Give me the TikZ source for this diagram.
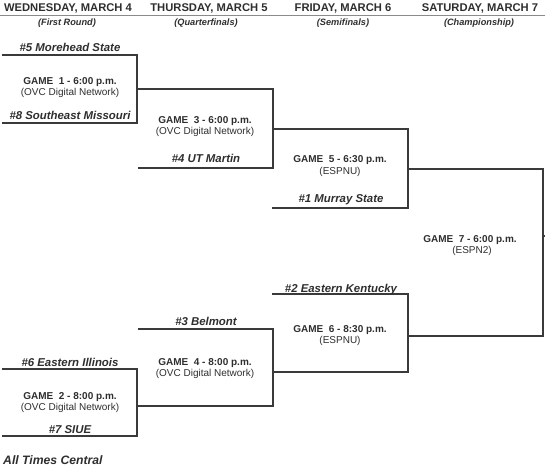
\documentclass[tikz,border=0pt]{standalone}
\usepackage{fontspec}
\setmainfont{Liberation Sans}
\definecolor{ink}{HTML}{2E2E2E}
\definecolor{rule}{HTML}{3A3A3A}
\definecolor{hdrline}{HTML}{8A8A8A}
\begin{document}
\begin{tikzpicture}[x=1pt,y=-1pt,
  every node/.style={inner sep=0pt,text=ink},
  day/.style={font=\bfseries\fontsize{11.2}{13}\selectfont,anchor=base},
  round/.style={font=\bfseries\itshape\fontsize{9.2}{11}\selectfont,anchor=base},
  team/.style={font=\bfseries\itshape\fontsize{11.4}{13}\selectfont,anchor=base},
  game/.style={font=\bfseries\fontsize{10}{12}\selectfont,anchor=base},
  net/.style={font=\fontsize{10}{12}\selectfont,anchor=base},
  bracket/.style={draw=rule,line width=1.2pt,line cap=rect}]
\useasboundingbox (0,0) rectangle (545,470);
% header
\node[day] (d1) at (68,12) {WEDNESDAY, MARCH 4};
\node[day] (d2) at (209,12) {THURSDAY, MARCH 5};
\node[day] (d3) at (343,12) {FRIDAY, MARCH 6};
\node[day] (d4) at (480,12) {SATURDAY, MARCH 7};
\coordinate (hl) at (0,15.5);
\coordinate (hr) at (545,15.5);
\draw[hdrline,line width=1.3pt] (hl) -- (hr);
\node[round] (r1) at (67,25.5) {(First Round)};
\node[round] (r2) at (206,25.5) {(Quarterfinals)};
\node[round] (r3) at (343,25.5) {(Semifinals)};
\node[round] (r4) at (479,25.5) {(Championship)};
% bracket corner coordinates
\coordinate (a1) at (3,55);   \coordinate (a2) at (137,55);
\coordinate (a3) at (3,123);  \coordinate (a4) at (137,123);
\coordinate (g1m) at (137,89);
\coordinate (b1) at (273,89);
\coordinate (b3) at (139,168); \coordinate (b4) at (273,168);
\coordinate (g3m) at (273,129);
\coordinate (c1) at (408,129);
\coordinate (c3) at (273,208); \coordinate (c4) at (408,208);
\coordinate (g5m) at (408,169);
\coordinate (e1) at (543,169);
\coordinate (g6m) at (408,336);
\coordinate (e4) at (543,336);
\coordinate (s1) at (543,236); \coordinate (s2) at (546,236);
\coordinate (f1) at (273,294); \coordinate (f2) at (408,294);
\coordinate (g4m) at (273,372);
\coordinate (f4) at (408,372);
\coordinate (h1) at (139,329); \coordinate (h2) at (273,329);
\coordinate (g2m) at (137,406);
\coordinate (h4) at (273,406);
\coordinate (k1) at (3,369);  \coordinate (k2) at (137,369);
\coordinate (k3) at (3,436);  \coordinate (k4) at (137,436);
% lines
\draw[bracket] (a1) -- (a2) -- (a4) -- (a3);
\draw[bracket] (g1m) -- (b1) -- (b4) -- (b3);
\draw[bracket] (g3m) -- (c1) -- (c4) -- (c3);
\draw[bracket] (g5m) -- (e1) -- (e4) -- (g6m);
\draw[bracket] (s1) -- (s2);
\draw[bracket] (f1) -- (f2) -- (f4) -- (g4m);
\draw[bracket] (h1) -- (h2) -- (h4) -- (g2m);
\draw[bracket] (k1) -- (k2) -- (k4) -- (k3);
% texts column 1
\node[team] (t5) at (70,52) {\#5 Morehead State};
\node[game] (gm1) at (70,85) {GAME\ \ 1 - 6:00 p.m.};
\node[net] (n1) at (70,96) {(OVC Digital Network)};
\node[team] (t8) at (70,120) {\#8 Southeast Missouri};
\node[team] (t6) at (70,366) {\#6 Eastern Illinois};
\node[game] (gm2) at (70,399) {GAME\ \ 2 - 8:00 p.m.};
\node[net] (n2) at (70,410) {(OVC Digital Network)};
\node[team] (t7) at (70,433) {\#7 SIUE};
% column 2
\node[game] (gm3) at (205,124) {GAME\ \ 3 - 6:00 p.m.};
\node[net] (n3) at (205,135) {(OVC Digital Network)};
\node[team] (t4) at (206,163) {\#4 UT Martin};
\node[team] (t3) at (206,325) {\#3 Belmont};
\node[game] (gm4) at (205,365) {GAME\ \ 4 - 8:00 p.m.};
\node[net] (n4) at (205,376) {(OVC Digital Network)};
% column 3
\node[game] (gm5) at (340,163) {GAME\ \ 5 - 6:30 p.m.};
\node[net] (n5) at (340,175) {(ESPNU)};
\node[team] (t1) at (341,202) {\#1 Murray State};
\node[team] (t2) at (341,292) {\#2 Eastern Kentucky};
\node[game] (gm6) at (340,332) {GAME\ \ 6 - 8:30 p.m.};
\node[net] (n6) at (340,343) {(ESPNU)};
% column 4
\node[game] (gm7) at (470,242) {GAME\ \ 7 - 6:00 p.m.};
\node[net] (n7) at (472,253) {(ESPN2)};
% footer
\node[team,font=\bfseries\itshape\fontsize{12.2}{14}\selectfont,anchor=base west] (foot) at (3,464) {All Times Central};
\end{tikzpicture}
\end{document}
